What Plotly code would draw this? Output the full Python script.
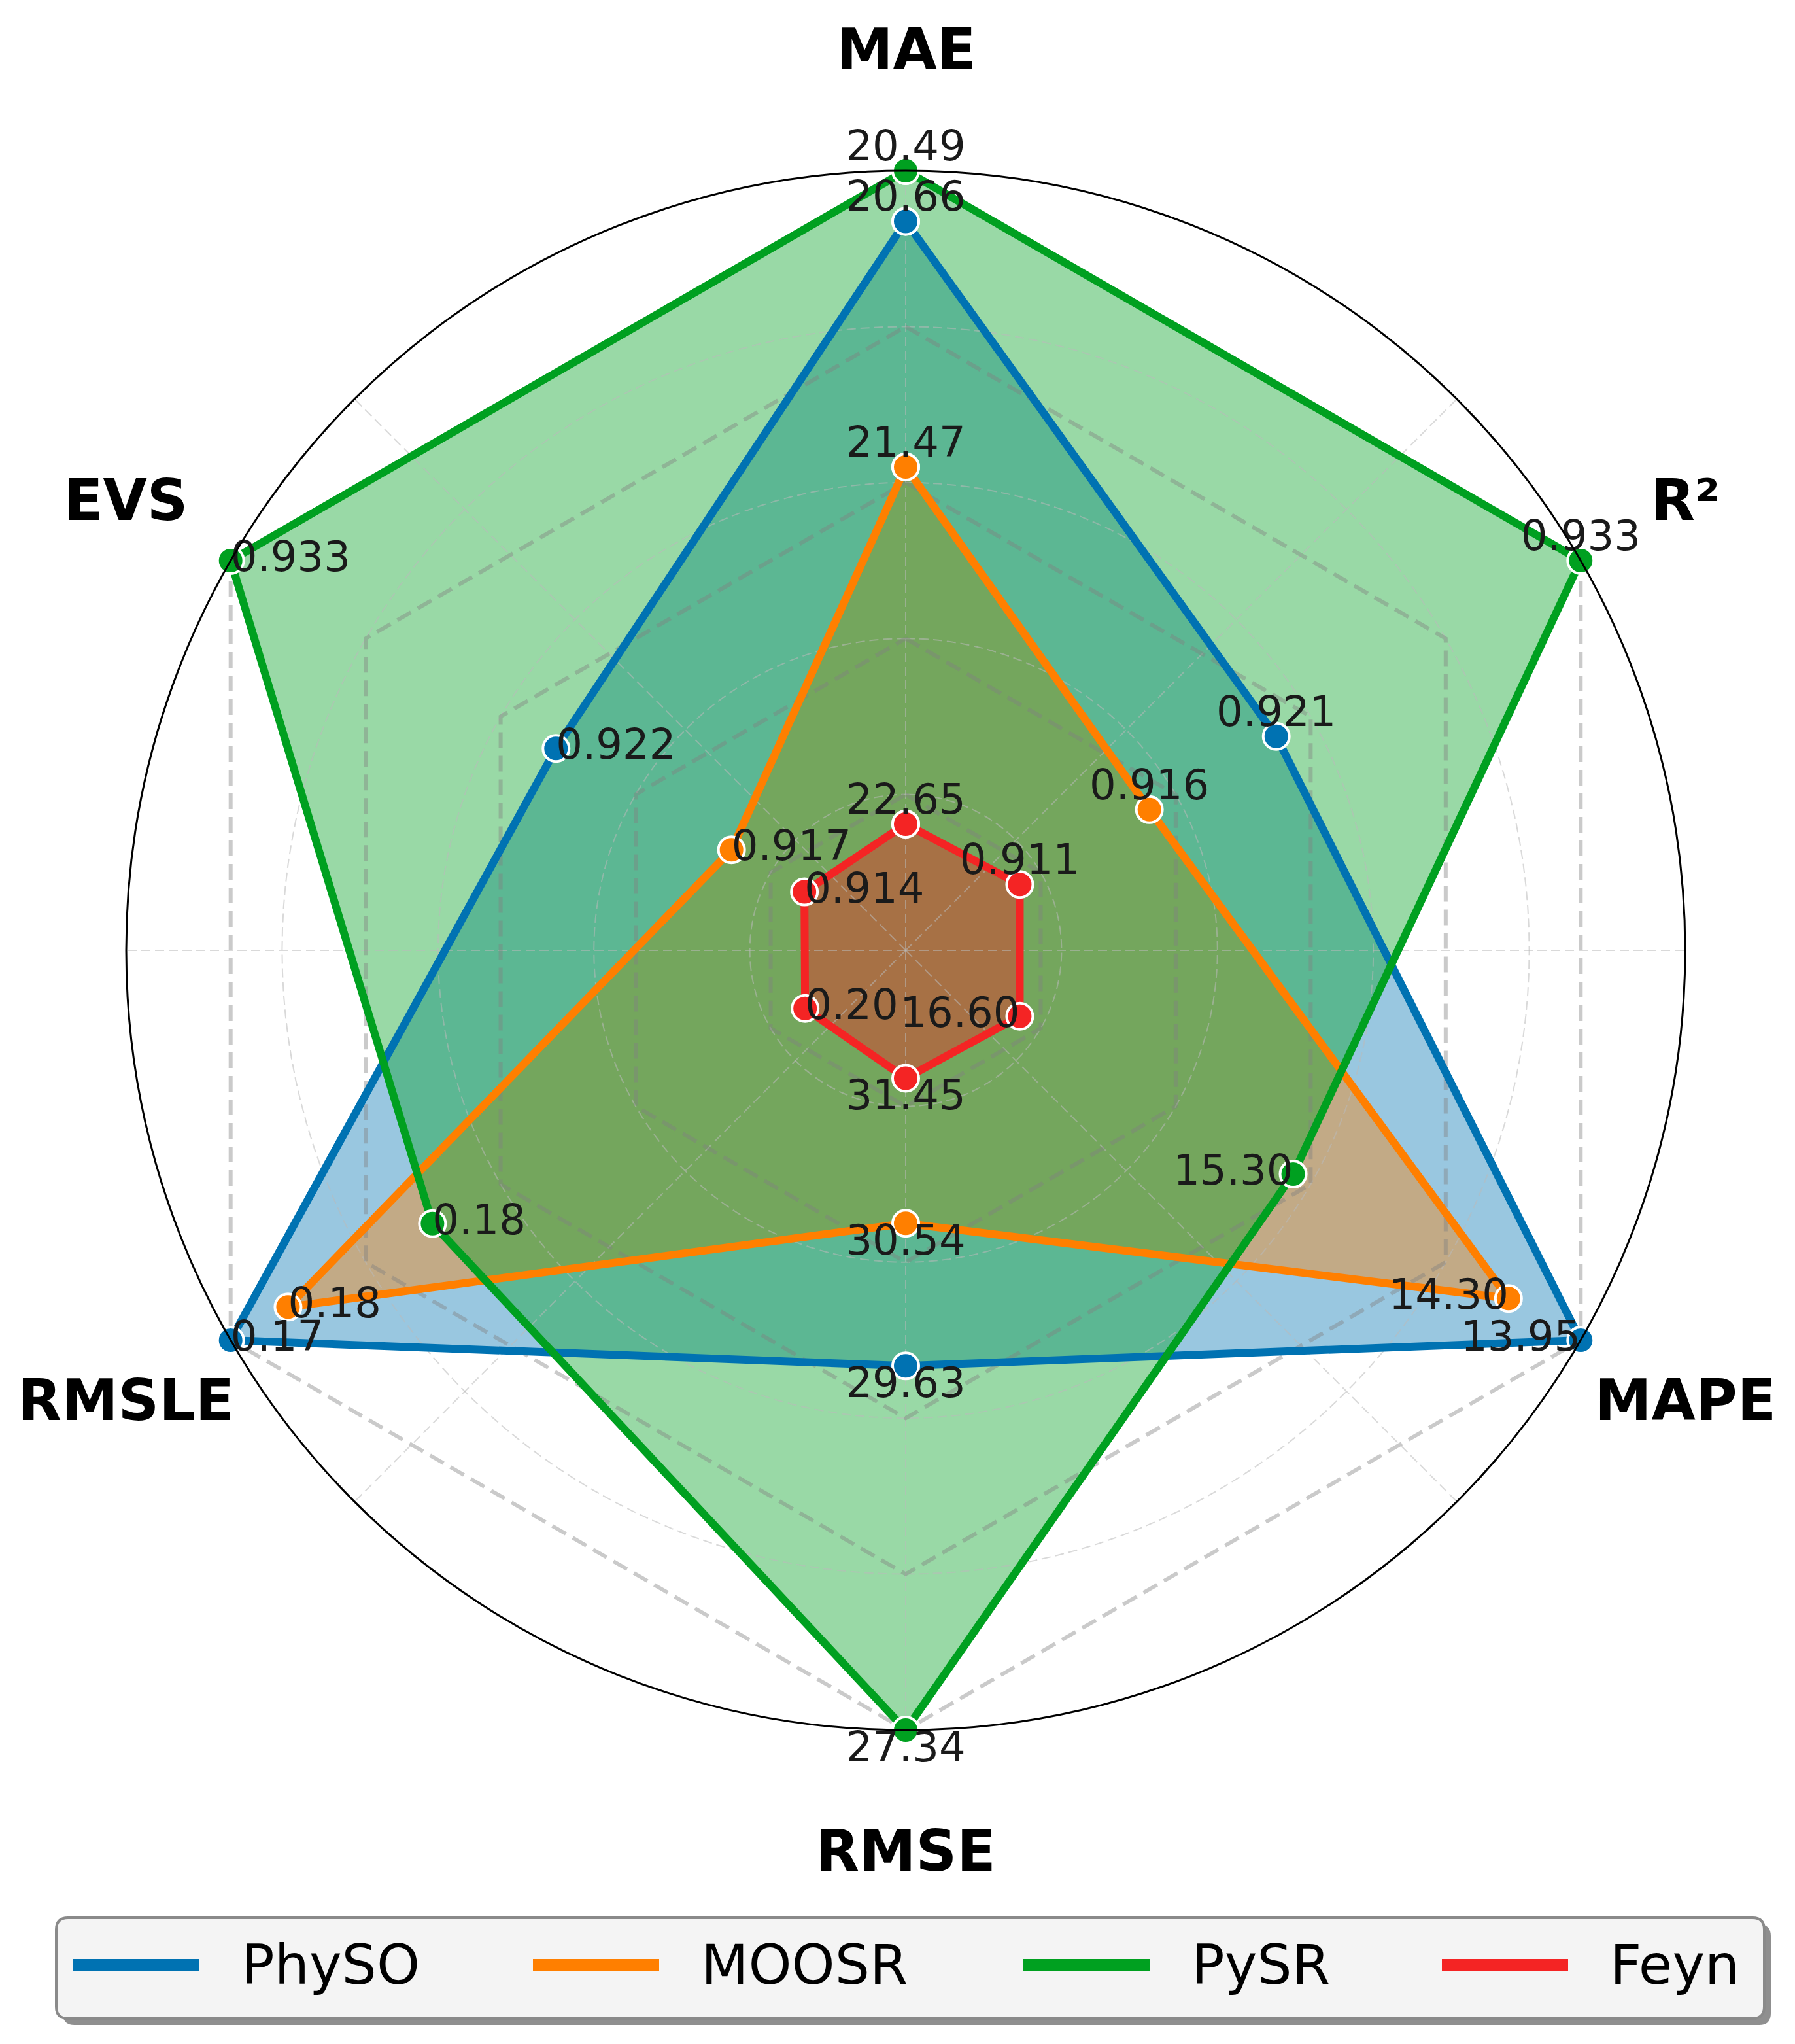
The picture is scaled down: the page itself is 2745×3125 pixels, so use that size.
import math
import plotly.graph_objects as go

# ---------------- data ----------------
categories = ["MAE", "R²", "MAPE", "RMSE", "RMSLE", "EVS"]
series_names = ["PhySO", "MOOSR", "PySR", "Feyn"]

# normalized scores (radial positions)
physo_score = [0.935, 0.549, 1.0, 0.533, 1.0, 0.518]
moosr_score = [0.620, 0.361, 0.893, 0.350, 0.915, 0.258]
pysr_score = [1.0, 1.0, 0.574, 1.0, 0.701, 1.0]
feyn_score = [0.162, 0.169, 0.169, 0.164, 0.149, 0.150]

# raw metric values shown as labels
physo_label = ["20.66", "0.921", "13.95", "29.63", "0.17", "0.922"]
moosr_label = ["21.47", "0.916", "14.30", "30.54", "0.18", "0.917"]
pysr_label = ["20.49", "0.933", "15.30", "27.34", "0.18", "0.933"]
feyn_label = ["22.65", "0.911", "16.60", "31.45", "0.20", "0.914"]

grid_levels = [0.2, 0.4, 0.6, 0.8, 1.0]

# ---------------- styling ----------------
W, H = 2745, 3125
CX, CY, RAD = 1377, 1445, 1192
FONT = "DejaVu Sans"
colors = ["#0072B2", "#FF7F00", "#00A020", "#F42424"]
fills = ["rgba(0,114,178,0.4)", "rgba(255,127,0,0.4)", "rgba(0,160,32,0.4)", "rgba(244,36,36,0.4)"]

scores = [physo_score, moosr_score, pysr_score, feyn_score]
labels = [physo_label, moosr_label, pysr_label, feyn_label]

n = len(categories)
theta = [i * 360 / n for i in range(n)]
theta_closed = theta + [theta[0]]
text_pos = ["top center", "top center", "middle left", "bottom center", "middle right", "middle right"]

fig = go.Figure()

# fills
for name, sc, fc in zip(series_names, scores, fills):
    fig.add_trace(go.Scatterpolar(
        r=sc + [sc[0]], theta=theta_closed, mode="lines", fill="toself",
        fillcolor=fc, line=dict(width=0, color="rgba(0,0,0,0)"),
        showlegend=False, hoverinfo="skip"))

# thin dashed circles and 45-degree spokes
circ_theta = list(range(0, 361, 2))
for lv in grid_levels[:-1]:
    fig.add_trace(go.Scatterpolar(
        r=[lv] * len(circ_theta), theta=circ_theta, mode="lines",
        line=dict(color="rgba(185,185,185,0.55)", width=2, dash="14px,7px"),
        showlegend=False, hoverinfo="skip"))
for a in range(0, 360, 45):
    fig.add_trace(go.Scatterpolar(
        r=[0, 1], theta=[a, a], mode="lines",
        line=dict(color="rgba(185,185,185,0.55)", width=2, dash="14px,7px"),
        showlegend=False, hoverinfo="skip"))

# dashed hexagon grid
for lv in grid_levels:
    fig.add_trace(go.Scatterpolar(
        r=[lv] * (n + 1), theta=theta_closed, mode="lines",
        line=dict(color="rgba(128,128,128,0.42)", width=6, dash="24px,12px"),
        showlegend=False, hoverinfo="skip"))

# series lines + markers
for name, sc, col in zip(series_names, scores, colors):
    fig.add_trace(go.Scatterpolar(
        r=sc + [sc[0]], theta=theta_closed, mode="lines+markers", name=name,
        line=dict(color=col, width=12),
        marker=dict(size=40, color=col, line=dict(color="white", width=4)),
        showlegend=False))

# value labels
for name, sc, lb in zip(series_names, scores, labels):
    fig.add_trace(go.Scatterpolar(
        r=sc, theta=theta, mode="text", text=lb, textposition=text_pos,
        textfont=dict(family=FONT, size=64, color="#1a1a1a"),
        cliponaxis=False, showlegend=False, hoverinfo="skip"))

fig.update_layout(
    width=W, height=H, autosize=False,
    margin=dict(l=0, r=0, t=0, b=0),
    paper_bgcolor="white",
    showlegend=False,
    polar=dict(
        domain=dict(x=[(CX - RAD) / W, (CX + RAD) / W],
                    y=[1 - (CY + RAD) / H, 1 - (CY - RAD) / H]),
        bgcolor="white",
        radialaxis=dict(range=[0, 1], showticklabels=False, ticks="",
                        showgrid=False, showline=False),
        angularaxis=dict(rotation=90, direction="clockwise", showgrid=False,
                         showticklabels=False, ticks="", showline=True,
                         linecolor="black", linewidth=3),
    ),
)

# category labels
annotations = []
for i, cat in enumerate(categories):
    ang = math.radians(90 - theta[i])
    x = CX + 1.155 * RAD * math.cos(ang)
    y = CY - 1.155 * RAD * math.sin(ang)
    annotations.append(dict(
        x=x / W, y=1 - y / H, xref="paper", yref="paper", showarrow=False,
        text="<b>" + cat + "</b>", xanchor="center", yanchor="middle",
        font=dict(family=FONT, size=87, color="black")))

# custom legend
LX0, LX1, LY0, LY1 = 78, 2690, 2924, 3078
legend_x = [104, 807, 1557, 2197]
legend_y = 2996


def rounded(x0, y0, x1, y1, rr):
    px = lambda v: v / W
    py = lambda v: 1 - v / H
    return (f"M {px(x0 + rr)} {py(y0)} L {px(x1 - rr)} {py(y0)} "
            f"Q {px(x1)} {py(y0)} {px(x1)} {py(y0 + rr)} L {px(x1)} {py(y1 - rr)} "
            f"Q {px(x1)} {py(y1)} {px(x1 - rr)} {py(y1)} L {px(x0 + rr)} {py(y1)} "
            f"Q {px(x0)} {py(y1)} {px(x0)} {py(y1 - rr)} L {px(x0)} {py(y0 + rr)} "
            f"Q {px(x0)} {py(y0)} {px(x0 + rr)} {py(y0)} Z")


shapes = [
    dict(type="path", xref="paper", yref="paper", path=rounded(LX0 + 10, LY0 + 10, LX1 + 10, LY1 + 10, 18),
         fillcolor="#8f8f8f", line=dict(width=0)),
    dict(type="path", xref="paper", yref="paper", path=rounded(LX0, LY0, LX1, LY1, 18),
         fillcolor="#f4f4f4", line=dict(color="#8a8a8a", width=4)),
]
for name, col, lx in zip(series_names, colors, legend_x):
    shapes.append(dict(type="line", xref="paper", yref="paper",
                       x0=lx / W, x1=(lx + 193) / W, y0=1 - legend_y / H, y1=1 - legend_y / H,
                       line=dict(color=col, width=18)))
    annotations.append(dict(
        x=(lx + 255) / W, y=1 - legend_y / H, xref="paper", yref="paper", showarrow=False,
        text=name, xanchor="left", yanchor="middle",
        font=dict(family=FONT, size=84, color="black")))

fig.update_layout(annotations=annotations, shapes=shapes)
fig.write_html("out.html")
